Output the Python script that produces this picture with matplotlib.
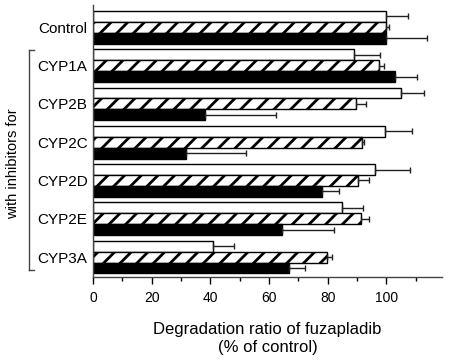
import matplotlib
matplotlib.use("Agg")
import matplotlib.pyplot as plt
import numpy as np

plt.rcParams['font.family'] = ['Liberation Sans', 'DejaVu Sans']
plt.rcParams['hatch.linewidth'] = 2.0

categories = ["Control", "CYP1A", "CYP2B", "CYP2C", "CYP2D", "CYP2E", "CYP3A"]
white_vals = [100, 89, 105, 99.5, 96, 85, 41]
white_err = [7.5, 9, 8, 9.3, 12, 7.2, 7]
hatch_vals = [100, 97.6, 89.7, 91.6, 90.2, 91.5, 79.6]
hatch_err = [0.8, 1.7, 3.5, 0.8, 4, 2.5, 1.7]
black_vals = [100, 102.8, 38, 31.7, 78, 64.4, 66.8]
black_err = [14, 7.8, 24.4, 20.3, 6, 17.8, 5.5]

fig = plt.figure(figsize=(4.52, 3.64), dpi=100)
ax = fig.add_axes([0.206, 0.239, 0.772, 0.747])

n = len(categories)
pos = np.arange(n)
h = 0.285
ekw = dict(elinewidth=1, capthick=1, ecolor='#222222')
for vals, errs, off, fc, hatch in [
    (white_vals, white_err, -h, 'white', None),
    (hatch_vals, hatch_err, 0, 'white', '//'),
    (black_vals, black_err, h, 'black', None)]:
    ax.barh(pos + off, vals, height=h, color=fc, edgecolor='black', linewidth=1,
            hatch=hatch, xerr=[np.zeros(n), errs], capsize=2.5, error_kw=ekw)

ax.set_ylim(n - 0.5 + 0.02, -0.58)
ax.set_xlim(0, 119)
ax.set_yticks(pos)
ax.set_yticklabels(categories, fontsize=11)
ax.tick_params(axis='y', length=0, pad=4)
ax.set_xticks(np.arange(0, 101, 20))
ax.set_xticks(np.arange(10, 111, 20), minor=True)
ax.tick_params(axis='x', which='major', length=5, width=1, labelsize=10, pad=5)
ax.tick_params(axis='x', which='minor', length=3, width=1)
for s in ['top', 'right']:
    ax.spines[s].set_visible(False)
for s in ['left', 'bottom']:
    ax.spines[s].set_linewidth(1)
    ax.spines[s].set_color('#444444')

ax.set_xlabel("Degradation ratio of fuzapladib\n(% of control)", fontsize=12, labelpad=12, linespacing=1.3)

# bracket for inhibitors
bx = 29 / 452
y_top = 1 - 50 / 364
y_bot = 1 - 270 / 364
fig.add_artist(plt.Line2D([bx, bx], [y_bot, y_top], transform=fig.transFigure, color='#444444', lw=1))
fig.add_artist(plt.Line2D([bx, bx + 5 / 452], [y_top, y_top], transform=fig.transFigure, color='#444444', lw=1))
fig.add_artist(plt.Line2D([bx, bx + 5 / 452], [y_bot, y_bot], transform=fig.transFigure, color='#444444', lw=1))
fig.text(13 / 452, 1 - 164 / 364, "with inhibitors for", rotation=90, ha='center', va='center', fontsize=10.5)

fig.savefig("out.png", dpi=100)
